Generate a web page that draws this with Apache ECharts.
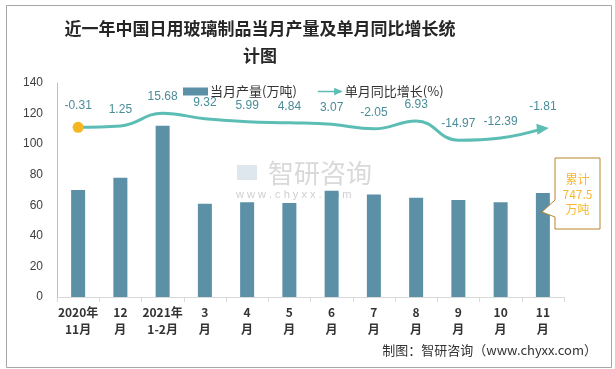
<!DOCTYPE html>
<html><head><meta charset="utf-8">
<script src="https://cdn.jsdelivr.net/npm/echarts@6/dist/echarts.min.js"></script>
<style>html,body{margin:0;padding:0;background:#fff}#c{width:615px;height:369px}</style>
</head><body><div id="c"></div>
<script>
var categories = ['2020年\n11月','12\n月','2021年\n1-2月','3\n月','4\n月','5\n月','6\n月','7\n月','8\n月','9\n月','10\n月','11\n月'];
var output = [70, 78, 112, 61, 62, 61.5, 69.5, 67, 65, 63.5, 62, 68];
var growth = [-0.31, 1.25, 15.68, 9.32, 5.99, 4.84, 3.07, -2.05, 6.93, -14.97, -12.39, -1.81];
var yTicks = {min: 0, max: 140, interval: 20};
var totalText = '累计\n747.5\n万吨';

var lineData = growth.map(function (v, i) {
  if (i === 0) return {value: v, symbol: 'circle', symbolSize: 11, itemStyle: {color: '#F5B622'}};
  if (i === growth.length - 1) return {value: v, symbol: 'triangle', symbolSize: [11, 12], symbolRotate: -84, itemStyle: {color: '#5BBDB4'}};
  return {value: v, symbol: 'circle', symbolSize: 1, itemStyle: {color: 'rgba(0,0,0,0)'}};
});

var chart = echarts.init(document.getElementById('c'));
chart.setOption({
  animation: false,
  textStyle: {fontFamily: 'Liberation Sans, Noto Sans CJK SC, sans-serif'},
  grid: {left: 57, right: 51, top: 83, bottom: 72},
  legend: {
    left: 178, top: 80, itemGap: 21, itemWidth: 25, itemHeight: 8,
    textStyle: {fontSize: 13, color: '#333', fontFamily: 'Noto Sans CJK SC', padding: [0, 0, 0, -3]},
    data: [
      {name: '当月产量(万吨)', icon: 'rect'},
      {name: '单月同比增长(%)', icon: 'path://M0,3.2 L17,3.2 L17,0 L26,4 L17,8 L17,4.8 L0,4.8 Z'}
    ]
  },
  xAxis: {
    type: 'category', data: categories, boundaryGap: true,
    axisLine: {lineStyle: {color: '#d9d9d9'}},
    axisTick: {show: true, length: 5, lineStyle: {color: '#d9d9d9'}},
    axisLabel: {fontWeight: 'bold', fontSize: 12, color: '#333', lineHeight: 17, margin: 7, interval: 0, fontFamily: 'Noto Sans CJK SC'}
  },
  yAxis: [
    {type: 'value', min: yTicks.min, max: yTicks.max, interval: yTicks.interval,
     axisLine: {show: true, lineStyle: {color: '#bfbfbf'}}, axisTick: {show: false},
     splitLine: {show: false}, axisLabel: {fontSize: 12, color: '#404040', margin: 14}},
    {type: 'value', min: -193, max: 50, show: false, splitLine: {show: false}}
  ],
  series: [
    {name: '当月产量(万吨)', type: 'bar', data: output, barWidth: 14,
     itemStyle: {color: '#5B90A7'}},
    {name: '单月同比增长(%)', type: 'line', yAxisIndex: 1, data: lineData, smooth: 0.45, showSymbol: true,
     lineStyle: {color: '#5BBDB4', width: 3}, itemStyle: {color: '#5BBDB4'},
     label: {show: true, position: 'top', distance: 10, fontSize: 12, color: '#4A8C99'}}
  ],
  graphic: [
    {type: 'rect', left: 4, top: 3, shape: {width: 605, height: 362}, style: {fill: 'none', stroke: '#a6a6a6', lineWidth: 1}, z: -1},
    {type: 'text', x: 260, y: 15, style: {text: '近一年中国日用玻璃制品当月产量及单月同比增长统\n计图', textAlign: 'center', fontSize: 17, fontWeight: 'bold', lineHeight: 27, fill: '#262626', fontFamily: 'Noto Sans CJK SC'}},
    {type: 'polygon', shape: {points: [[555,158],[600,158],[600,229],[555,229],[555,217],[542,212],[555,200]]}, style: {fill: '#fff', stroke: '#B8862A', lineWidth: 1}, z: 10},
    {type: 'text', x: 577.5, y: 172, style: {text: totalText, textAlign: 'center', fontSize: 12, lineHeight: 15, fill: '#F5B82E', fontFamily: 'Noto Sans CJK SC'}, z: 11},
    {type: 'text', x: 597, y: 344, style: {text: '制图：智研咨询（www.chyxx.com）', textAlign: 'right', fontSize: 13, fill: '#333', fontFamily: 'Noto Sans CJK SC'}},
    {type: 'text', x: 268, y: 160, style: {text: '智研咨询', fontSize: 26, fill: 'rgba(160,160,160,0.4)', fontFamily: 'Noto Sans CJK SC'}, z: 0},
    {type: 'text', x: 236, y: 189, style: {text: 'w w w . c h y x x . c o m', fontSize: 11, fill: 'rgba(160,160,160,0.5)', fontFamily: 'Liberation Sans'}, z: 0},
    {type: 'rect', left: 237, top: 165, shape: {width: 20, height: 15}, style: {fill: 'rgba(150,175,200,0.3)'}, z: 0}
  ]
});
</script></body></html>
